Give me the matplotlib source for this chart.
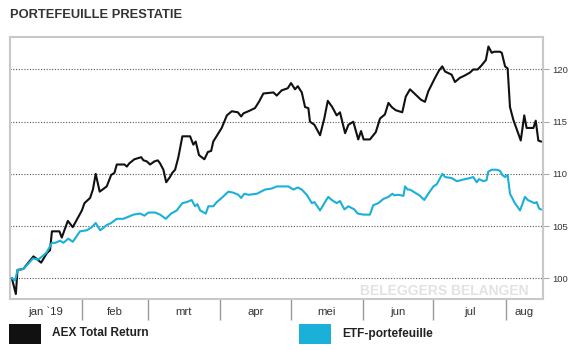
import matplotlib
matplotlib.use("Agg")
import matplotlib.pyplot as plt
from matplotlib.patches import Rectangle

REG = 'Liberation Sans'

# days since 1 Jan 2019
aex_days = [1, 2.7, 3.4, 5.9, 10.2, 11.4, 13.5, 15.9, 17.3, 18.1, 21.3, 22.3, 24.9, 27.0, 30.9, 32.0,
            34.4, 35.6, 36.8, 38.5, 41.5, 43.4, 44.8, 45.8, 49.1, 50.1, 51.1, 53.3, 56.2, 57.2, 58.6,
            60.0, 61.9, 63.3, 64.3, 65.7, 66.9, 68.5, 69.5, 70.7, 72.1, 73.8, 77.1, 78.5, 79.5, 80.9,
            83.2, 84.7, 86.1, 87.0, 90.6, 92.8, 94.9, 97.5, 98.9, 99.9, 102.0, 104.8, 106.5, 108.4,
            112.7, 114.1, 116.2, 118.8, 120.2, 121.9, 123.1, 124.8, 126.2, 127.6, 128.3, 130.2, 132.6,
            134.4, 135.9, 137.8, 139.7, 141.1, 143.3, 144.7, 146.8, 148.9, 150.1, 151.2, 153.9, 156.4,
            158.2, 160.3, 161.8, 163.2, 164.9, 167.7, 169.2, 171.0, 172.9, 175.7, 177.4, 178.8, 181.7,
            183.4, 184.8, 186.0, 188.8, 190.2, 192.3, 194.2, 196.6, 198.0, 199.9, 201.6, 203.4, 204.5,
            205.9, 207.0, 209.4, 210.2, 211.6, 212.7, 213.7, 215.1, 218.3, 219.8, 220.8, 223.7, 224.7,
            225.8, 226.9]
aex_vals = [100.0, 98.5, 100.8, 100.9, 102.1, 101.9, 101.5, 102.4, 102.7, 104.5, 104.5, 103.9, 105.5,
            104.9, 106.5, 107.2, 107.7, 108.5, 110.0, 108.3, 108.8, 109.9, 110.1, 110.9, 110.9, 110.7,
            111.0, 111.4, 111.6, 111.3, 111.2, 110.9, 111.2, 111.3, 111.0, 110.4, 109.2, 109.7, 110.1,
            110.4, 111.6, 113.6, 113.6, 112.8, 113.1, 111.8, 111.4, 112.1, 112.2, 113.1, 114.4, 115.6,
            116.0, 115.9, 115.5, 115.8, 116.0, 116.3, 116.9, 117.7, 117.8, 117.5, 118.0, 118.2, 118.7,
            118.1, 118.4, 117.8, 116.4, 116.3, 115.0, 114.7, 113.7, 115.3, 117.0, 116.4, 115.6, 115.9,
            113.9, 114.7, 115.0, 113.3, 114.1, 113.3, 113.3, 114.0, 115.3, 115.7, 116.8, 116.4, 116.1,
            115.9, 117.4, 118.1, 117.7, 117.1, 116.9, 117.9, 119.2, 119.9, 120.3, 119.8, 119.5, 118.8,
            119.2, 119.4, 119.7, 120.0, 120.0, 120.4, 120.9, 122.2, 121.6, 121.7, 121.7, 121.6, 120.3,
            120.1, 116.4, 115.2, 113.2, 115.6, 114.4, 114.4, 115.1, 113.2, 113.1]

etf_days = [1.0, 2.4, 3.4, 5.9, 7.6, 10.0, 12.3, 14.5, 15.9, 18.1, 19.5, 21.6, 23.0, 25.1, 27.0, 30.1,
            33.0, 35.1, 36.8, 38.7, 41.5, 43.4, 45.8, 48.6, 50.8, 52.9, 55.8, 57.6, 59.3, 62.2, 64.3,
            66.7, 69.0, 71.4, 73.8, 75.7, 77.8, 79.2, 80.2, 81.4, 83.8, 84.9, 87.0, 88.5, 90.6, 92.0,
            93.5, 95.6, 97.7, 98.9, 100.3, 102.0, 105.6, 109.1, 112.0, 114.1, 116.9, 119.1, 121.2,
            123.1, 124.8, 126.9, 129.1, 130.2, 132.6, 134.7, 136.1, 137.6, 139.7, 141.1, 143.0, 144.7,
            147.2, 148.7, 151.1, 153.9, 155.3, 157.5, 159.6, 161.8, 163.5, 164.3, 166.0, 168.2, 168.9,
            170.0, 171.0, 173.9, 175.3, 177.1, 178.8, 181.0, 182.4, 183.4, 184.8, 186.0, 188.8, 191.0,
            194.5, 196.6, 198.0, 199.5, 200.5, 202.3, 203.7, 204.4, 205.9, 208.0, 209.4, 210.4, 211.6,
            212.7, 213.7, 215.8, 218.0, 220.1, 221.3, 224.1, 225.1, 226.1, 226.9]
etf_vals = [100.0, 99.8, 100.8, 100.9, 101.3, 101.9, 101.8, 102.2, 102.5, 103.4, 103.4, 103.6, 103.4,
            103.8, 103.5, 104.5, 104.6, 104.9, 105.3, 104.6, 105.1, 105.3, 105.7, 105.7, 105.9, 106.1,
            106.2, 106.0, 106.3, 106.3, 106.1, 105.7, 106.2, 106.5, 107.2, 107.3, 107.5, 106.9, 107.1,
            106.5, 106.2, 106.9, 106.9, 107.3, 107.7, 108.0, 108.3, 108.2, 108.0, 107.7, 108.1, 108.0,
            108.1, 108.5, 108.6, 108.8, 108.8, 108.8, 108.5, 108.7, 108.5, 108.0, 107.2, 107.3, 106.5,
            107.3, 107.8, 107.5, 107.2, 107.4, 106.6, 106.9, 106.6, 106.2, 106.1, 106.1, 107.0, 107.2,
            107.6, 107.8, 108.1, 107.95, 108.0, 107.9, 108.8, 108.5, 108.5, 108.1, 107.9, 107.5, 108.1,
            108.8, 109.0, 109.4, 110.0, 109.7, 109.6, 109.3, 109.5, 109.6, 109.7, 109.2, 109.5, 109.3,
            109.4, 110.2, 110.4, 110.4, 110.3, 109.9, 109.7, 109.9, 108.1, 107.2, 106.5, 107.8, 107.5,
            107.2, 107.3, 106.7, 106.6]

month_labels = ['jan `19', 'feb', 'mrt', 'apr', 'mei', 'jun', 'jul', 'aug']
month_starts = [0, 31, 59, 90, 120, 151, 181, 212]
x_end = 227.8
y_ticks = [100, 105, 110, 115, 120]
series_names = ['AEX Total Return', 'ETF-portefeuille']
colors = ['#111111', '#1ab0d8']

W, H = 572, 350
fig = plt.figure(figsize=(W / 100, H / 100), dpi=100)
ax = fig.add_axes([10 / W, 1 - 299 / H, 533 / W, 262 / H])

ax.plot(aex_days, aex_vals, color=colors[0], lw=1.5, zorder=3, solid_joinstyle='round')
ax.plot(etf_days, etf_vals, color=colors[1], lw=1.5, zorder=4, solid_joinstyle='round')

ax.set_xlim(0.2, x_end)
ax.set_ylim(98.02, 123.11)

for v in y_ticks:
    ax.axhline(v, color='#555555', lw=0.8, ls=(0, (1, 1.5)), zorder=1)

for s in ax.spines.values():
    s.set_color('#c8c8c8')
    s.set_linewidth(1.5)

ax.yaxis.tick_right()
ax.set_yticks(y_ticks)
ax.set_yticklabels([str(v) for v in y_ticks], fontsize=6.8, color='#333333', family=REG)
ax.tick_params(axis='y', length=4, width=0.8, color='#aaaaaa', pad=3)

ax.set_xticks(month_starts[1:])
ax.set_xticklabels([])
ax.tick_params(axis='x', length=15, width=1, color='#999999', direction='out')

bounds = month_starts + [x_end]
xt = ax.get_xaxis_transform()
for i, lab in enumerate(month_labels):
    c = (max(bounds[i], 0.2) + bounds[i + 1]) / 2
    ax.text(c, -13 / 262, lab, transform=xt, ha='center', va='center',
            fontsize=8.2, color='#333333', family=REG)

ax.text(0.972, 0.03, 'BELEGGERS BELANGEN', transform=ax.transAxes, ha='right', va='center',
        fontsize=10, color='#e2e2e2', family=REG, fontweight='bold', zorder=0)

fig.text(10 / W, 1 - 14.5 / H, 'PORTEFEUILLE PRESTATIE', ha='left', va='center',
         fontsize=9.3, fontweight='bold', color='#333333', family=REG)

# legend
for (x0, tx), name, col in zip([(9, 52), (299, 342)], series_names, colors):
    fig.patches.append(Rectangle((x0 / W, 1 - 344 / H), 32 / W, 20 / H, transform=fig.transFigure,
                                 facecolor=col, edgecolor='none'))
    fig.text(tx / W, 1 - 333.5 / H, name, ha='left', va='center', fontsize=8.6,
             fontweight='bold', color='#222222', family=REG)

fig.savefig('out.png', dpi=100, facecolor='white')
